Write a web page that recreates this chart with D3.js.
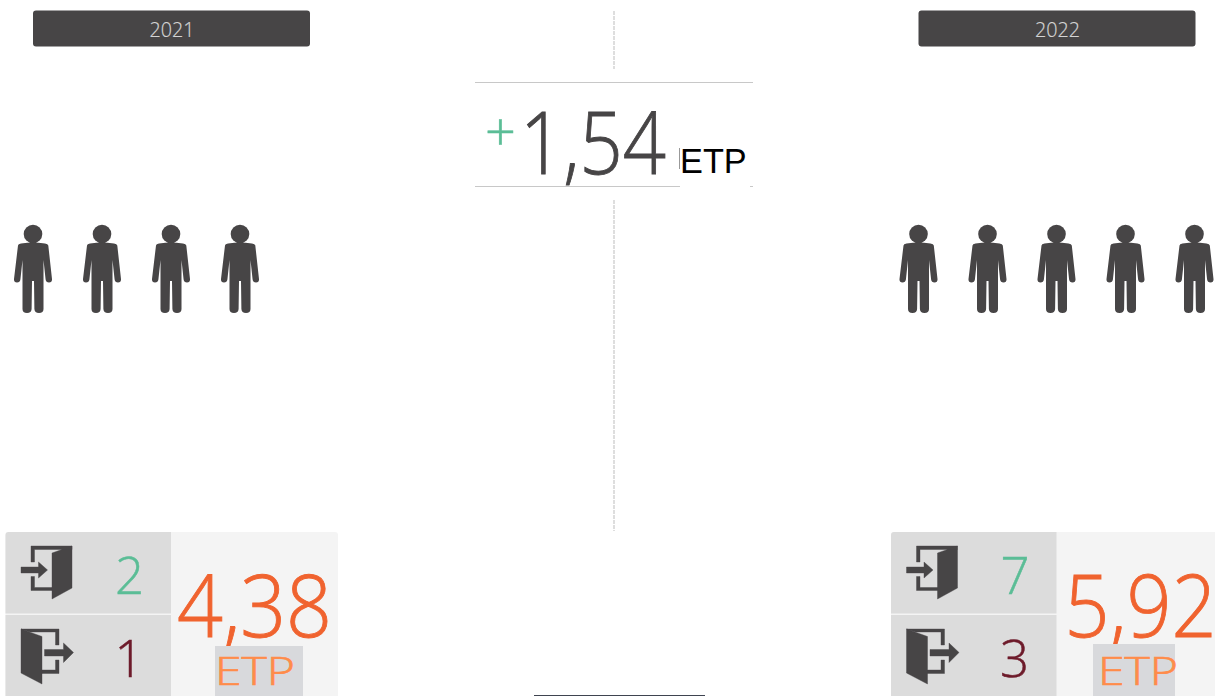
<!DOCTYPE html>
<html>
<head>
<meta charset="utf-8">
<script src="https://cdn.jsdelivr.net/npm/d3@7"></script>
<style>
    html, body { margin: 0; padding: 0; background: #fff; overflow: hidden; }
    text { font-family: "Open Sans", sans-serif; font-weight: 300; }
</style>
</head>
<body>
<svg id="chart" width="1215" height="696"></svg>
<script>
// ---------------------------------------------------------------
//    DATA
// ---------------------------------------------------------------
const years = ["2021", "2022"];
const headcount = [4, 5];
const entries = [2, 7];
const exits = [1, 3];
const etp = ["4,38", "5,92"];
const etpDelta = "1,54";
const deltaSign = "+";
const etpLabel = "ETP";

const dark = "#474546";
const svg = d3.select("#chart");

// Left edge of each year's block
const blockX = d3.scaleOrdinal().domain(years).range([0, 885.5]);
// Person icons are spaced evenly from the first slot
const personX = d3.scaleLinear().domain([0, 1]).range([33, 102]);

// ---------------------------------------------------------------
//    ICONS
// ---------------------------------------------------------------
const personBody = "M-15,11.5 Q-15,10 -12,9.6 Q-5,8.5 0,8.5 Q5,8.5 12,9.6 Q15,10 15.3,11.5 L19,45 Q19.3,48.5 16,48.5 Q13,48.5 12.6,45.5 L10.5,26 L10.5,75 Q10.5,79 6,79 Q1.6,79 1.4,75 L1,47 L-1,47 L-1.4,75 Q-1.6,79 -6,79 Q-10.5,79 -10.5,75 L-10.5,26 L-12.6,45.5 Q-13,48.5 -16,48.5 Q-19.3,48.5 -19,45 Z";

const doorIn = "M52,553 L72,546 L72,588 L52,599 Z M31,546 H72 V549.5 H34.5 V562 H31 Z M31,576.5 H34.5 V587.5 H52 V590.5 H31 Z M21,567 H38.5 V562 L47.5,570 L38.5,578 V573 H21 Z";
const doorOut = "M21,629 L42,636.5 L42,684 L21,673 Z M21,629 H59 V645 H55.5 V632 H30 Z M55.5,660 H59 V673.5 H42 V670 H55.5 Z M44.5,649.5 H63.5 V643 L73.5,652.5 L63.5,662.5 V656 H44.5 Z";

// ---------------------------------------------------------------
//    CENTER
// ---------------------------------------------------------------
const dashed = [[11, 69], [200, 531]];
svg.selectAll("line.axis").data(dashed).join("line")
    .attr("class", "axis")
    .attr("x1", 614).attr("x2", 614)
    .attr("y1", d => d[0]).attr("y2", d => d[1])
    .attr("stroke", "#bdbdbd")
    .attr("stroke-dasharray", "4 1");

svg.selectAll("line.rule").data([82.5, 186.5]).join("line")
    .attr("class", "rule")
    .attr("x1", 475).attr("x2", 753)
    .attr("y1", d => d).attr("y2", d => d)
    .attr("stroke", "#c8c8c8");

svg.append("text").attr("x", 500.5).attr("y", 151)
    .attr("text-anchor", "middle")
    .attr("font-size", 54).attr("fill", "#5bbd96")
    .attr("stroke", "#5bbd96").attr("stroke-width", 0.6)
    .text(deltaSign);

svg.append("text").attr("x", 520).attr("y", 174)
    .attr("font-size", 86).attr("fill", dark)
    .attr("stroke", dark).attr("stroke-width", 0.9)
    .attr("textLength", 146).attr("lengthAdjust", "spacingAndGlyphs")
    .text(etpDelta);

// Label sits on a white box that cuts the lower rule
svg.append("rect").attr("x", 680).attr("y", 147).attr("width", 70).attr("height", 43).attr("fill", "#fff");
svg.append("line").attr("x1", 679.5).attr("x2", 679.5).attr("y1", 148).attr("y2", 169).attr("stroke", "#999");
svg.append("text").attr("x", 680).attr("y", 173)
    .style("font-family", "'Liberation Sans', sans-serif")
    .style("font-weight", 400)
    .attr("font-size", 34.3).attr("fill", "#000")
    .text(etpLabel);

svg.append("line").attr("x1", 534).attr("x2", 705).attr("y1", 695.5).attr("y2", 695.5).attr("stroke", "#3f4450");

// ---------------------------------------------------------------
//    YEAR BLOCKS
// ---------------------------------------------------------------
const blocks = svg.selectAll("g.year").data(years).join("g")
    .attr("class", "year")
    .attr("transform", d => `translate(${blockX(d)},0)`);

blocks.append("rect")
    .attr("x", 33).attr("y", 10.5).attr("width", 277).attr("height", 36).attr("rx", 3)
    .attr("fill", dark);

blocks.append("text")
    .attr("x", 149.5).attr("y", 37)
    .attr("font-size", 21).attr("fill", "#d4d4d4")
    .attr("stroke", "#d4d4d4").attr("stroke-width", 0.2)
    .attr("textLength", 45).attr("lengthAdjust", "spacingAndGlyphs")
    .text(d => d);

// Persons, one per head
blocks.each(function (year, i) {
    const persons = d3.select(this).selectAll("g.person").data(d3.range(headcount[i])).join("g")
        .attr("class", "person")
        .attr("transform", d => `translate(${personX(d)},234)`)
        .attr("fill", dark);
    persons.append("circle").attr("r", 9.3);
    persons.append("path").attr("d", personBody);
});

// Panels run past the bottom of the page
blocks.append("rect").attr("x", 5.5).attr("y", 532).attr("width", 332.5).attr("height", 175).attr("rx", 3).attr("fill", "#f4f4f4");
blocks.append("path").attr("d", "M5.5,613.5 V535 Q5.5,532 8.5,532 H171 V613.5 Z").attr("fill", "#dcdcdc");
blocks.append("rect").attr("x", 5.5).attr("y", 615).attr("width", 165.5).attr("height", 81).attr("fill", "#dcdcdc");

blocks.append("path").attr("d", doorIn).attr("fill", dark).attr("stroke", dark).attr("stroke-width", 0.4);
blocks.append("path").attr("d", doorOut).attr("fill", dark).attr("stroke", dark).attr("stroke-width", 0.4);

blocks.append("text")
    .attr("x", 129.5).attr("y", 594)
    .attr("text-anchor", "middle")
    .attr("font-size", 51).attr("fill", "#5bbd96")
    .attr("stroke", "#5bbd96").attr("stroke-width", 0.5)
    .text((d, i) => entries[i]);

blocks.append("text")
    .attr("x", 129).attr("y", 677)
    .attr("text-anchor", "middle")
    .attr("font-size", 51).attr("fill", "#6d1a2a")
    .attr("stroke", "#6d1a2a").attr("stroke-width", 0.5)
    .text((d, i) => exits[i]);

// Value widths
const etpStart = [177, 179];
const etpWidth = [155, 152];
blocks.append("text")
    .attr("x", (d, i) => etpStart[i]).attr("y", 636.5)
    .attr("font-size", 87).attr("fill", "#f0632f")
    .attr("stroke", "#f0632f").attr("stroke-width", 0.9)
    .attr("textLength", (d, i) => etpWidth[i]).attr("lengthAdjust", "spacingAndGlyphs")
    .text((d, i) => etp[i]);

// ETP label box differs a little per year
const boxX = [215, 207.5];
const boxW = [88, 82];
const boxY = [646, 644];
const labelX = [215, 212.5];
blocks.append("rect")
    .attr("x", (d, i) => boxX[i]).attr("y", (d, i) => boxY[i])
    .attr("width", (d, i) => boxW[i]).attr("height", (d, i) => 696 - boxY[i])
    .attr("fill", "#d8d9dc");

blocks.append("text")
    .attr("x", (d, i) => labelX[i]).attr("y", 685)
    .attr("font-size", 38).attr("fill", "#ff8c4a")
    .attr("stroke", "#ff8c4a").attr("stroke-width", 0.7)
    .attr("textLength", 80).attr("lengthAdjust", "spacingAndGlyphs")
    .text(etpLabel);
</script>
</body>
</html>
